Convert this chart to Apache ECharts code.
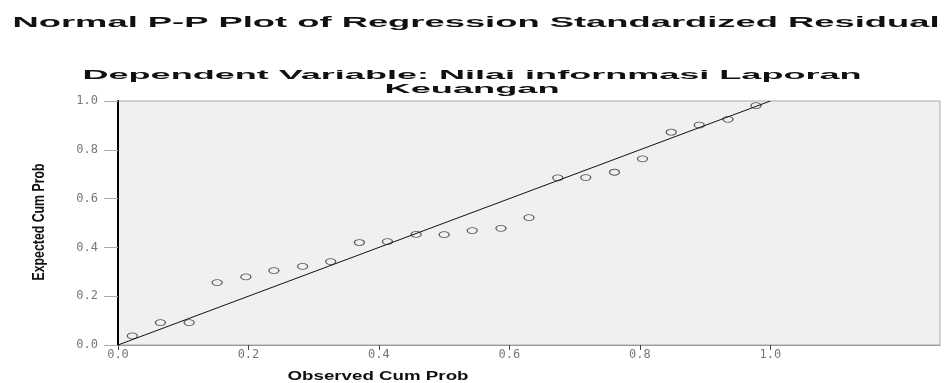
<!DOCTYPE html>
<html>
<head>
<meta charset="utf-8">
<script src="https://cdn.jsdelivr.net/npm/echarts@6/dist/echarts.min.js"></script>
<style>
html,body{margin:0;padding:0;background:#fff;}
#chart{width:944px;height:383px;}
</style>
</head>
<body>
<div id="chart"></div>
<script>
// ---- data ----
var observedCumProb = [0.022, 0.065, 0.109, 0.152, 0.196, 0.239, 0.283, 0.326, 0.370, 0.413, 0.457, 0.500, 0.543, 0.587, 0.630, 0.674, 0.717, 0.761, 0.804, 0.848, 0.891, 0.935, 0.978];
var expectedCumProb = [0.037, 0.092, 0.092, 0.256, 0.279, 0.305, 0.322, 0.342, 0.420, 0.424, 0.453, 0.452, 0.469, 0.478, 0.522, 0.685, 0.686, 0.708, 0.763, 0.872, 0.901, 0.925, 0.981];
var referenceLine = [[0, 0], [1, 1]];
var tickValues = [0, 0.2, 0.4, 0.6, 0.8, 1.0];
var titleText = 'Normal P-P Plot of Regression Standardized Residual';
var subtitleLines = ['Dependent Variable: Nilai infornmasi Laporan', 'Keuangan'];
var xAxisTitle = 'Observed Cum Prob';
var yAxisTitle = 'Expected Cum Prob';

var points = observedCumProb.map(function (x, i) { return [x, expectedCumProb[i]]; });

var FONT = '"Liberation Sans", Arial, sans-serif';
var mctx = document.createElement('canvas').getContext('2d');
function fitScale(text, font, target) {
  mctx.font = font;
  return target / mctx.measureText(text).width;
}
function stretchedText(text, size, cx, cy, targetWidth, rotation) {
  var font = 'bold ' + size + 'px ' + FONT;
  return {
    type: 'text',
    x: cx, y: cy,
    rotation: rotation || 0,
    scaleX: fitScale(text, font, targetWidth),
    style: {
      text: text,
      font: font,
      fill: '#111',
      textAlign: 'center',
      textVerticalAlign: 'middle'
    }
  };
}

var chart = echarts.init(document.getElementById('chart'), null, {renderer: 'canvas'});
chart.setOption({
  animation: false,
  backgroundColor: '#fff',
  grid: {
    left: 118, top: 101, right: 4, bottom: 38,
    show: true,
    backgroundColor: '#f0f0f0',
    borderColor: '#a8a8a8',
    borderWidth: 1
  },
  xAxis: {
    type: 'value',
    min: 0, max: 1.26,
    interval: 0.2,
    splitLine: {show: false},
    axisLine: {onZero: false, lineStyle: {color: '#999', width: 1}},
    axisTick: {show: true, length: 5, customValues: tickValues, lineStyle: {color: '#444', width: 1}},
    axisLabel: {
      customValues: tickValues,
      margin: 4,
      fontFamily: '"DejaVu Sans Mono", monospace',
      fontSize: 12,
      color: '#777',
      formatter: function (v) { return v.toFixed(1); }
    }
  },
  yAxis: {
    type: 'value',
    min: 0, max: 1,
    interval: 0.2,
    splitLine: {show: false},
    axisLine: {onZero: false, lineStyle: {color: '#000', width: 2}},
    axisTick: {show: true, length: 14, lineStyle: {color: '#aaa', width: 1}},
    axisLabel: {
      margin: 20,
      fontFamily: '"DejaVu Sans Mono", monospace',
      fontSize: 12,
      color: '#777',
      formatter: function (v) { return v.toFixed(1); }
    }
  },
  series: [
    {
      type: 'scatter',
      data: points,
      symbol: 'circle',
      symbolSize: [10, 6],
      itemStyle: {color: 'rgba(0,0,0,0)', borderColor: '#333', borderWidth: 1},
      z: 2
    },
    {
      type: 'line',
      data: referenceLine,
      showSymbol: false,
      symbol: 'none',
      lineStyle: {color: '#111', width: 1},
      z: 3
    }
  ],
  graphic: [
    stretchedText(titleText, 15, 476, 23, 927),
    stretchedText(subtitleLines[0], 13, 472, 75, 779),
    stretchedText(subtitleLines[1], 13, 472, 89, 175),
    stretchedText(xAxisTitle, 13, 378, 376, 181),
    stretchedText(yAxisTitle, 17, 39, 222, 117, Math.PI / 2)
  ]
});
</script>
</body>
</html>
